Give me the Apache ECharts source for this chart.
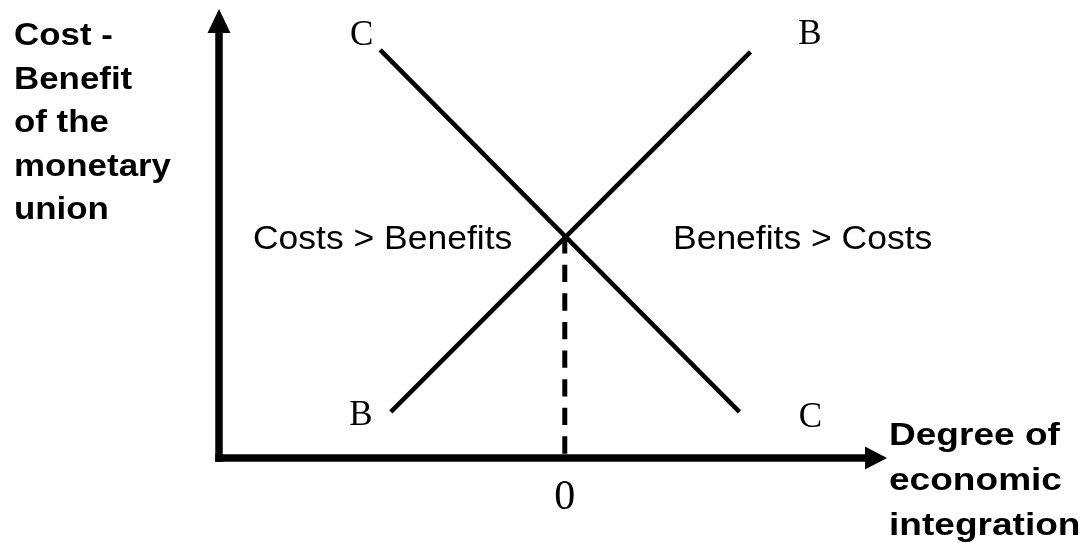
<!DOCTYPE html>
<html>
<head>
<meta charset="utf-8">
<script src="https://cdn.jsdelivr.net/npm/echarts@6/dist/echarts.min.js"></script>
<style>
html,body{margin:0;padding:0;background:#fff;}
#c{width:1090px;height:543px;}
</style>
</head>
<body>
<div id="c"></div>
<script>
// ---- data ----
const curveNames = ['C', 'B'];
const costCurve = [[-5.34, 12.14], [5.05, 1.37]];
const benefitCurve = [[-5.03, 1.37], [5.37, 12.08]];
const equilibriumLine = [[0, 6.6], [0, 0]];
const xTickLabels = ['0'];
const yAxisTitle = ['Cost -', 'Benefit', 'of the', 'monetary', 'union'];
const xAxisTitle = ['Degree of', 'economic', 'integration'];
const regionLabels = ['Costs > Benefits', 'Benefits > Costs'];

// ---- chart ----
const chart = echarts.init(document.getElementById('c'), null, {renderer: 'canvas'});
const serif = 'Liberation Serif, Times New Roman, serif';
const sans = 'Liberation Sans, Arial, sans-serif';

const curveLabel = {
  show: true,
  position: 'inside',
  fontFamily: serif,
  fontSize: 35,
  color: '#000'
};
const costOffsets = [[-18.5, -14], [71, 5.5]];
const benefitOffsets = [[-30, 4], [59.5, -17]];

const axisLineStyle = {color: '#000', width: 7.5, cap: 'square'};

chart.setOption({
  animation: false,
  backgroundColor: '#fff',
  grid: {left: 219, right: 214, top: 21, bottom: 85, containLabel: false},
  xAxis: {
    type: 'value', min: -10, max: 9, interval: 10,
    axisLine: {show: true, onZero: false, lineStyle: axisLineStyle,
      symbol: ['none', 'triangle'], symbolSize: [23, 22]},
    axisTick: {show: false},
    splitLine: {show: false},
    axisLabel: {
      show: true, showMinLabel: false, showMaxLabel: false,
      formatter: v => (v === 0 ? xTickLabels[0] : ''),
      fontFamily: serif, fontSize: 42, color: '#000', margin: 19
    }
  },
  yAxis: {
    type: 'value', min: 0, max: 13,
    axisLine: {show: true, onZero: false, lineStyle: axisLineStyle,
      symbol: ['none', 'triangle'], symbolSize: [23, 24]},
    axisTick: {show: false},
    splitLine: {show: false},
    axisLabel: {show: false}
  },
  series: [
    {
      type: 'line', silent: true, z: 1,
      data: equilibriumLine,
      showSymbol: false,
      lineStyle: {color: '#000', width: 5, type: [17.3, 11.3]}
    },
    {
      type: 'line', silent: true, z: 2,
      data: costCurve.map((p, i) => ({value: p, label: {offset: costOffsets[i]}})),
      showSymbol: true, symbol: 'circle', symbolSize: 0,
      lineStyle: {color: '#000', width: 4.5},
      itemStyle: {color: '#000'},
      label: Object.assign({formatter: curveNames[0]}, curveLabel)
    },
    {
      type: 'line', silent: true, z: 2,
      data: benefitCurve.map((p, i) => ({value: p, label: {offset: benefitOffsets[i]}})),
      showSymbol: true, symbol: 'circle', symbolSize: 0,
      lineStyle: {color: '#000', width: 4.5},
      itemStyle: {color: '#000'},
      label: Object.assign({formatter: curveNames[1]}, curveLabel)
    }
  ],
  graphic: [
    {
      type: 'text', x: 14, y: 15, scaleX: 1.125, silent: true,
      style: {text: yAxisTitle.join('\n'), fontFamily: sans, fontWeight: 'bold',
        fontSize: 31, lineHeight: 43.5, fill: '#000', align: 'left', verticalAlign: 'top'}
    },
    {
      type: 'text', x: 889, y: 413.7, scaleX: 1.215, silent: true,
      style: {text: xAxisTitle.join('\n'), fontFamily: sans, fontWeight: 'bold',
        fontSize: 30.5, lineHeight: 45, fill: '#000', align: 'left', verticalAlign: 'top'}
    },
    {
      type: 'text', x: 253, y: 240, scaleX: 1.075, silent: true,
      style: {text: regionLabels[0], fontFamily: sans, fontSize: 33,
        fill: '#000', align: 'left', verticalAlign: 'middle'}
    },
    {
      type: 'text', x: 673, y: 240, scaleX: 1.075, silent: true,
      style: {text: regionLabels[1], fontFamily: sans, fontSize: 33,
        fill: '#000', align: 'left', verticalAlign: 'middle'}
    }
  ]
});
</script>
</body>
</html>
